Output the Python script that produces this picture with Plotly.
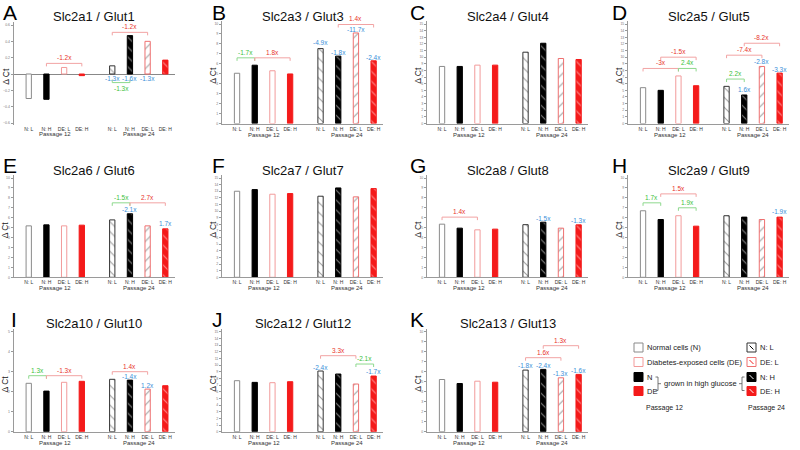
import plotly.graph_objects as go

# ---------------- data ----------------
conditions = ["N: L", "N: H", "DE: L", "DE: H"]
passages = ["Passage 12", "Passage 24"]
genes = ["Slc2a1 / Glut1", "Slc2a3 / Glut3", "Slc2a4 / Glut4", "Slc2a5 / Glut5",
         "Slc2a6 / Glut6", "Slc2a7 / Glut7", "Slc2a8 / Glut8", "Slc2a9 / Glut9",
         "Slc2a10 / Glut10", "Slc2a12 / Glut12", "Slc2a13 / Glut13"]
letters = ["A", "B", "C", "D", "E", "F", "G", "H", "I", "J", "K"]

# delta Ct: passage 12 (N:L, N:H, DE:L, DE:H) then passage 24 (same order)
glut1 = [-0.30, -0.31, 0.08, -0.02, 0.10, 0.47, 0.40, 0.17]
glut3 = [5.05, 5.86, 5.30, 4.98, 7.53, 6.77, 9.10, 6.30]
glut4 = [8.6, 8.6, 8.8, 8.8, 10.75, 12.1, 9.8, 9.65]
glut5 = [5.4, 5.0, 7.17, 5.7, 5.6, 4.3, 8.6, 7.6]
glut6 = [5.18, 5.28, 5.18, 5.25, 5.78, 6.4, 5.18, 4.88]
glut7 = [13.0, 13.25, 12.55, 12.65, 12.25, 13.5, 12.15, 13.4]
glut8 = [5.35, 4.95, 4.78, 4.85, 5.3, 5.55, 4.95, 5.28]
glut9 = [6.7, 5.82, 6.2, 5.15, 6.2, 6.06, 5.82, 6.06]
glut10 = [2.42, 2.03, 2.47, 2.52, 2.62, 2.58, 2.13, 2.3]
glut12 = [7.65, 7.4, 7.35, 7.5, 9.1, 8.65, 7.15, 8.35]
glut13 = [5.22, 4.82, 5.05, 4.95, 6.16, 6.23, 5.39, 5.73]
series = [glut1, glut3, glut4, glut5, glut6, glut7, glut8, glut9, glut10, glut12, glut13]

# y-axis top tick per panel (panel A is symmetric around 0)
axis_max = [0.6, 10, 15, 15, 10, 15, 10, 10, 5, 15, 10]

# fold-change brackets: (panel, from bar, to bar, level, label, kind)
brackets = [
    (0, 1, 3, 0.13, "-1.2x", "red"), (0, 4, 6, 0.51, "-1.2x", "red"),
    (0, 4, 5, -0.105, "-1.3x", "green_down"),
    (1, 0, 1, 6.6, "-1.7x", "green"), (1, 1, 3, 6.6, "1.8x", "red"), (1, 5, 7, 9.95, "1.4x", "red"),
    (3, 0, 2, 8.3, "-3x", "red"), (3, 2, 3, 8.3, "2.4x", "green"), (3, 1, 3, 10.0, "-1.5x", "red"),
    (3, 4, 5, 6.7, "2.2x", "green"), (3, 4, 6, 10.3, "-7.4x", "red"), (3, 5, 7, 12.1, "-8.2x", "red"),
    (4, 4, 5, 7.5, "-1.5x", "green"), (4, 5, 7, 7.5, "2.7x", "red"),
    (6, 0, 2, 6.06, "1.4x", "red"),
    (7, 0, 1, 7.5, "1.7x", "green"), (7, 1, 3, 8.4, "1.5x", "red"), (7, 2, 3, 7.0, "1.9x", "green"),
    (8, 0, 1, 2.8, "1.3x", "green"), (8, 1, 3, 2.8, "-1.3x", "red"), (8, 4, 6, 3.0, "1.4x", "red"),
    (9, 4, 6, 11.4, "3.3x", "red"), (9, 6, 7, 10.15, "-2.1x", "green"),
    (10, 4, 6, 7.4, "1.6x", "red"), (10, 5, 7, 8.6, "1.3x", "red"),
]
# passage 24 vs passage 12 fold changes: (panel, bar, level, label)
blue_labels = [
    (0, 4, -0.06, "-1.3x"), (0, 5, -0.06, "-1.6x"), (0, 6, -0.06, "-1.3x"),
    (1, 4, 8.14, "-4.9x"), (1, 5, 7.17, "-1.8x"), (1, 6, 9.42, "-11.7x"), (1, 7, 6.63, "-2.4x"),
    (3, 5, 5.15, "1.6x"), (3, 6, 9.3, "-2.8x"), (3, 7, 8.2, "-3.3x"),
    (4, 5, 6.8, "-2.1x"), (4, 7, 5.4, "1.7x"),
    (6, 5, 5.95, "-1.5x"), (6, 7, 5.7, "-1.3x"),
    (7, 7, 6.6, "-1.9x"),
    (8, 5, 2.78, "-1.4x"), (8, 6, 2.33, "1.2x"),
    (9, 4, 9.65, "-2.4x"), (9, 7, 9.1, "-1.7x"),
    (10, 4, 6.6, "-1.8x"), (10, 5, 6.6, "-2.4x"), (10, 6, 5.8, "-1.3x"), (10, 7, 6.1, "-1.6x"),
]

# ---------------- styling ----------------
FONT = "Liberation Sans, Arial, sans-serif"
W, H = 800, 450
RED = "#f41a1a"
PINK = "#f29b9b"
GRAY = "#8a8a8a"
AXIS = "#9a9a9a"
TXT = {"red": "#e8342c", "green": "#3cbf3c", "green_down": "#3cbf3c", "blue": "#3a8fd9"}
LINE = {"red": "#f2a3a3", "green": "#8ed98e", "green_down": "#8ed98e"}


def fx(p):
    return p / W


def fy(p):
    return 1 - p / H


def ann(text, x, y, size, color, xref="paper", yref="paper", xanchor="center", yanchor="middle", **kw):
    d = dict(text=text, x=x, y=y, xref=xref, yref=yref, xanchor=xanchor, yanchor=yanchor,
             showarrow=False, font=dict(size=size, color=color, family=FONT), borderpad=0)
    d.update(kw)
    return d


group_gap = 0.72
xpos = [j + g * (len(conditions) + group_gap) for g in range(len(passages)) for j in range(len(conditions))]
ticktext = conditions * len(passages)
x_range = [-0.85, 8.25]
col_left = [13.7, 222, 427, 628]
col_width = 161
row_dom = [(24, 123.5), (178, 277.3), (331.7, 431.7)]
title_y = [16.5, 170, 323]
letter_x = [2, 211, 409, 611]
letter_y = [13, 166, 319.5]

bar_fill = ["white", "black", "white", RED, "white", "black", "white", RED]
bar_line = [GRAY, "black", PINK, RED, "#333333", "black", "#ee7070", RED]
pat_shape = ["", "", "", "", "\\", "\\", "/", "\\"]
pat_fg = ["black", "black", "black", "black", "black", "white", RED, "white"]

fig = go.Figure()
annotations = []
shapes = []
layout_axes = {}
ax_info = []

for p, (gene, vals) in enumerate(zip(genes, series)):
    r, c = divmod(p, 4)
    n = p + 1
    xa = "x" if n == 1 else f"x{n}"
    ya = "y" if n == 1 else f"y{n}"
    left = col_left[c]
    right = left + col_width
    top, bottom = row_dom[r]
    if p == 0:
        top, bottom = 25, 123
        ppu = (bottom - top) / (2 * axis_max[0])
        yr = [-axis_max[0] - 2 / ppu, axis_max[0] + 3 / ppu]
        dom = [fy(bottom + 2), fy(top - 3)]
        dtick = 0.2
        tick0 = -0.6
    else:
        ppu = (bottom - top) / axis_max[p]
        yr = [0, axis_max[p] + 3 / ppu]
        dom = [fy(bottom), fy(top - 3)]
        dtick = 1
        tick0 = 0
    ax_info.append((xa, ya, ppu))

    fig.add_trace(go.Bar(
        x=xpos, y=vals, width=0.3, xaxis=xa, yaxis=ya,
        marker=dict(color=bar_fill, line=dict(color=bar_line, width=1),
                    pattern=dict(shape=pat_shape, fgcolor=pat_fg, bgcolor=bar_fill,
                                 size=7, solidity=0.16)),
        hoverinfo="skip", showlegend=False,
    ))

    xkey = "xaxis" if n == 1 else f"xaxis{n}"
    ykey = "yaxis" if n == 1 else f"yaxis{n}"
    layout_axes[xkey] = dict(
        domain=[fx(left), fx(right)], range=x_range, anchor=ya, automargin=False,
        tickvals=xpos, ticktext=ticktext, tickfont=dict(size=5, color="#333", family=FONT),
        showline=(p != 0), linecolor=AXIS, linewidth=1, ticks="",
        showgrid=False, zeroline=False, fixedrange=True,
    )
    layout_axes[ykey] = dict(
        domain=dom, range=yr, anchor=xa, tick0=tick0, dtick=dtick, automargin=False,
        showline=True, linecolor=AXIS, linewidth=1, ticks="outside", ticklen=2,
        tickcolor=AXIS, tickfont=dict(size=3.5, color="#777", family=FONT),
        showgrid=False, zeroline=(p == 0), zerolinecolor="#888", zerolinewidth=1,
        fixedrange=True,
    )

    # title, panel letter, axis title, passage labels
    annotations.append(ann(gene, fx((left + right) / 2), fy(title_y[r]), 13, "#111"))
    lx = letter_x[c] + (8 if letters[p] == "I" else 0)
    annotations.append(ann(letters[p], fx(lx), fy(letter_y[r]), 21, "black", xanchor="left"))
    annotations.append(ann("Δ Ct", fx(left - (8 if p == 0 else 9)), fy((top + bottom) / 2 + 2),
                           8.5, "#222", textangle=-90))
    for g, pname in enumerate(passages):
        cx = sum(xpos[g * 4:(g + 1) * 4]) / 4
        annotations.append(ann(pname, cx, fy(bottom + 11), 6, "#333", xref=xa))

# brackets
for (p, i0, i1, lvl, lab, kind) in brackets:
    xa, ya, ppu = ax_info[p]
    t = 3 / ppu
    x0, x1 = xpos[i0], xpos[i1]
    if kind == "green_down":
        ys = [lvl + t, lvl, lvl, lvl + t]
        ly, yanc = lvl - 1.5 / ppu, "top"
    else:
        ys = [lvl - t, lvl, lvl, lvl - t]
        ly, yanc = lvl + 1 / ppu, "bottom"
    fig.add_trace(go.Scatter(x=[x0, x0, x1, x1], y=ys, mode="lines", xaxis=xa, yaxis=ya,
                             line=dict(color=LINE[kind], width=1), hoverinfo="skip", showlegend=False))
    annotations.append(ann(lab, (x0 + x1) / 2, ly, 6.5, TXT[kind], xref=xa, yref=ya, yanchor=yanc))

for (p, i, lvl, lab) in blue_labels:
    xa, ya, ppu = ax_info[p]
    annotations.append(ann(lab, xpos[i], lvl, 6.5, TXT["blue"], xref=xa, yref=ya))

# ---------------- custom legend ----------------
leg_rows = [347.5, 362, 377, 391]
left_items = [("Normal cells (N)", "white", GRAY), ("Diabetes-exposed cells (DE)", "white", PINK),
              ("N", "black", "black"), ("DE", RED, RED)]
right_items = [("N: L", "white", "#333", "black"), ("DE: L", "white", "#ee7070", RED),
               ("N: H", "black", "black", "white"), ("DE: H", RED, RED, "white")]
for (lab, fill, line), yc in zip(left_items, leg_rows):
    shapes.append(dict(type="rect", xref="paper", yref="paper", x0=fx(634), x1=fx(643),
                       y0=fy(yc + 4.5), y1=fy(yc - 4.5), fillcolor=fill, line=dict(color=line, width=1)))
    annotations.append(ann(lab, fx(646), fy(yc), 7.5, "#222", xanchor="left"))
for (lab, fill, line, mark), yc in zip(right_items, leg_rows):
    shapes.append(dict(type="rect", xref="paper", yref="paper", x0=fx(747), x1=fx(756),
                       y0=fy(yc + 4.5), y1=fy(yc - 4.5), fillcolor=fill, line=dict(color=line, width=1)))
    shapes.append(dict(type="line", xref="paper", yref="paper", x0=fx(749.5), x1=fx(753.5),
                       y0=fy(yc - 2), y1=fy(yc + 2), line=dict(color=mark, width=1)))
    annotations.append(ann(lab, fx(759), fy(yc), 7.5, "#222", xanchor="left"))


def ppath(points):
    s = ""
    for k, (a, b) in enumerate(points):
        s += ("M" if k == 0 else "L") + f"{fx(a)},{fy(b)} "
    return s


shapes.append(dict(type="path", xref="paper", yref="paper", line=dict(color="#555", width=0.8),
                   path=ppath([(655.5, 377), (658, 377), (658, 390.5), (655.5, 390.5)]) +
                   ppath([(658, 383.7), (661, 383.7)])))
shapes.append(dict(type="path", xref="paper", yref="paper", line=dict(color="#555", width=0.8),
                   path=ppath([(744.5, 377), (742, 377), (742, 390.5), (744.5, 390.5)]) +
                   ppath([(742, 383.7), (739, 383.7)])))
annotations.append(ann("grown in high glucose", fx(663), fy(383.7), 7.5, "#222", xanchor="left"))
annotations.append(ann("Passage 12", fx(645), fy(408), 7, "#222", xanchor="left"))
annotations.append(ann("Passage 24", fx(747), fy(408), 7, "#222", xanchor="left"))

fig.update_layout(
    width=W, height=H, margin=dict(l=0, r=0, t=0, b=0, pad=0, autoexpand=False),
    paper_bgcolor="white", plot_bgcolor="white", showlegend=False,
    font=dict(family=FONT), annotations=annotations, shapes=shapes, **layout_axes,
)
fig.write_html("out.html", config={"displayModeBar": False},
               post_script="document.body.style.margin='0px';")
